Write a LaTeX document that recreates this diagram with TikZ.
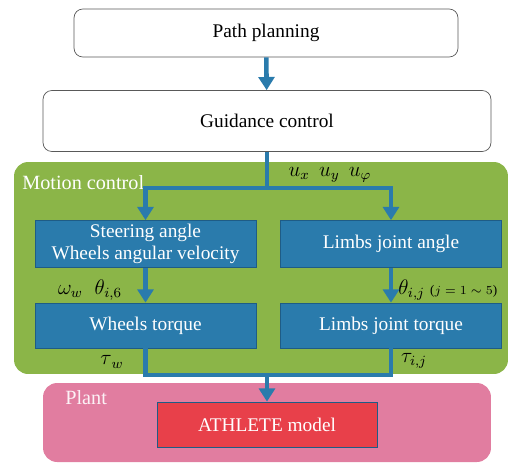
\documentclass[tikz,border=0pt]{standalone}
\usepackage{fontspec}
\setmainfont{Liberation Serif}
\usepackage{tikz}
\usetikzlibrary{arrows.meta, positioning}

\definecolor{flowblue}{HTML}{2A7BAC}
\definecolor{boxedge}{HTML}{1E5C86}
\definecolor{motiongreen}{HTML}{8BB548}
\definecolor{plantpink}{HTML}{E17DA0}
\definecolor{modelred}{HTML}{E8404A}

\begin{document}
\begin{tikzpicture}[
    x=0.02cm, y=-0.02cm,
    pb/.style={rectangle, rounded corners=5pt, draw=gray!70!black, fill=white,
        inner sep=0pt, font=\rmfamily\fontsize{11}{13}\selectfont},
    cb/.style={rectangle, draw=boxedge, fill=flowblue, text=white, align=center,
        minimum width=4.42cm, minimum height=0.94cm, inner sep=0pt,
        font=\rmfamily\fontsize{11}{12.5}\selectfont},
    rg/.style={rectangle, rounded corners=8pt, inner sep=0pt},
    lb/.style={font=\rmfamily\fontsize{11.5}{13}\selectfont, inner sep=0pt},
    sg/.style={font=\fontsize{12}{14}\selectfont, inner sep=0pt},
    ln/.style={draw=flowblue, line width=2.6pt},
    ar/.style={ln, -{Triangle[width=9pt, length=7.5pt]}}]
\useasboundingbox (0,0) rectangle (510,464);
% regions
\node[rg, fill=motiongreen, minimum width=9.88cm, minimum height=4.24cm] (MC) at (261,268) {};
\node[rg, fill=plantpink, minimum width=8.96cm, minimum height=1.58cm] (PL) at (267,422.5) {};
\node[lb, text=white, anchor=west] (MCl) at (22,183) {Motion control};
\node[lb, text=white!90!plantpink, anchor=west] (PLl) at (65,398) {Plant};
% blocks
\node[pb, minimum width=7.68cm, minimum height=0.96cm] (PP) at (266,33) {Path planning};
\node[pb, minimum width=8.96cm, minimum height=1.22cm] (GC) at (267,121) {Guidance control};
\node[cb] (SA) at (145.5,244) {Steering angle\\Wheels angular velocity};
\node[cb] (LA) at (391,244) {Limbs joint angle};
\node[cb, minimum height=0.9cm] (WT) at (145.5,325.5) {Wheels torque};
\node[cb, minimum height=0.9cm] (LT) at (391,325.5) {Limbs joint torque};
\node[rg, rounded corners=0pt, draw=boxedge, fill=modelred, text=white,
    minimum width=4.4cm, minimum height=0.9cm, font=\rmfamily\fontsize{11}{13}\selectfont]
    (AM) at (267,424.5) {ATHLETE model};
% signals
\node[sg] (U) at (330,175) {$u_x\;\, u_y\;\, u_\varphi$};
\node[sg] (W) at (90,290) {$\omega_w\;\;\theta_{i,6}$};
\node[sg, anchor=west] (T) at (398,290) {$\theta_{i,j}$ {\rmfamily\fontsize{7.5}{8}\selectfont($j=1\sim5$)}};
\node[sg] (TW) at (112,362) {$\tau_{\,w}$};
\node[sg] (TL) at (414,361) {$\tau_{i,j}$};
% connectors
\coordinate (split) at (267,188);
\coordinate (merge) at (267,375);
\draw[ar] (PP) -- (GC);
\draw[ln] (GC.south) -- (split);
\draw[ar] (split) -| (SA.north);
\draw[ar] (split) -| (LA.north);
\draw[ar] (SA) -- (WT);
\draw[ar] (LA) -- (LT);
\draw[ln] (WT.south) |- (merge);
\draw[ln] (LT.south) |- (merge);
\draw[ar] (merge) -- (AM);
\end{tikzpicture}
\end{document}
